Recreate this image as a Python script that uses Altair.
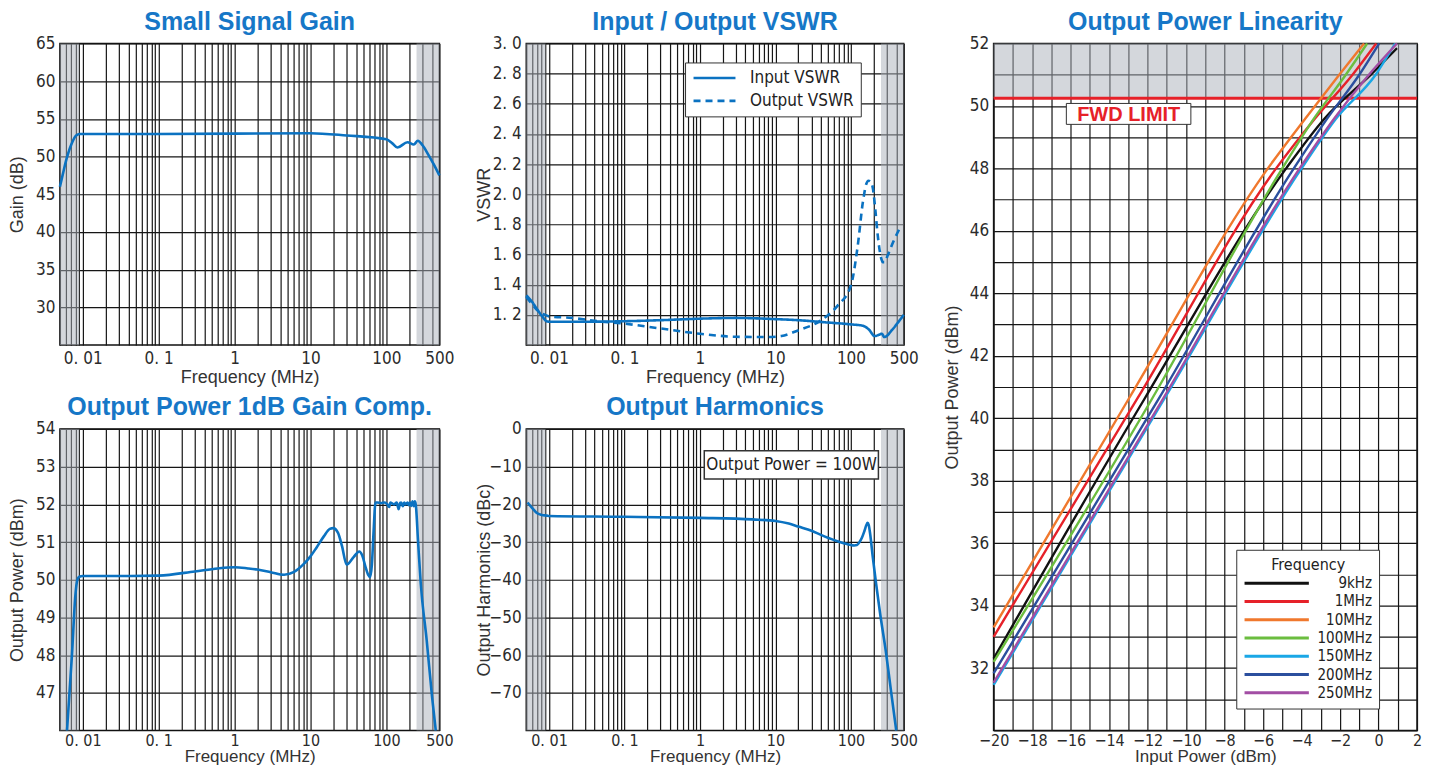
import altair as alt
import pandas as pd

# ------------------------------------------------------------------ data
FREQ_GAIN = [0.005, 0.0055, 0.006, 0.0065, 0.007,
             0.0075, 0.008, 0.0085, 0.009, 0.01,
             0.1, 1, 10, 30, 100,
             120, 140, 190, 230, 260,
             300, 360, 420, 500]
GAIN_DB = [46.0, 47.8, 49.4, 50.6, 51.5,
           52.2, 52.7, 52.9, 53.0, 53.0,
           53.0, 53.05, 53.1, 52.8, 52.3,
           51.75, 51.2, 51.9, 51.6, 52.1,
           51.5, 50.2, 49.0, 47.5]

VSWR_SERIES = ["Input VSWR", "Output VSWR"]
FREQ_VSWR_IN = [0.005, 0.006, 0.0069, 0.008, 0.0094,
                0.01, 0.03, 0.1, 0.3, 1,
                3, 10, 20, 40, 100,
                144, 175, 205, 235, 256,
                277, 350, 420, 500]
VSWR_IN = [1.33, 1.285, 1.24, 1.195, 1.157,
           1.155, 1.155, 1.158, 1.165, 1.175,
           1.18, 1.172, 1.165, 1.153, 1.137,
           1.128, 1.10, 1.06, 1.068, 1.075,
           1.053, 1.10, 1.15, 1.20]
FREQ_VSWR_OUT = [0.005, 0.006, 0.007, 0.008, 0.0094,
                 0.01, 0.02, 0.05, 0.1, 0.3,
                 1, 3, 8, 12, 20,
                 40, 67, 100, 123, 144,
                 160, 170, 185, 195, 210,
                 226, 250, 264, 280, 307,
                 360, 438]
VSWR_OUT = [1.32, 1.27, 1.23, 1.21, 1.195,
            1.19, 1.18, 1.155, 1.142, 1.11,
            1.075, 1.055, 1.053, 1.06, 1.097,
            1.164, 1.263, 1.396, 1.66, 1.95,
            2.07, 2.09, 2.08, 2.04, 1.9,
            1.73, 1.58, 1.55, 1.55, 1.595,
            1.68, 1.77]

FREQ_P1DB = [0.0062, 0.0072, 0.008, 0.0085, 0.009,
             0.01, 0.03, 0.1, 0.3, 0.6,
             1, 1.5, 2, 3, 4.5,
             6, 8, 10, 12, 15,
             18, 20, 23, 26, 30,
             37, 44, 48, 53, 58,
             61, 64.5, 68, 72, 76,
             85, 95, 103, 109, 113,
             120, 127, 137, 145, 152,
             157, 165, 172, 180, 190,
             198, 206, 214, 221, 230,
             237, 244, 262, 284, 340,
             400, 448]
P1DB = [46.0, 48.0, 49.6, 50.0, 50.08,
        50.1, 50.1, 50.11, 50.22, 50.3,
        50.33, 50.3, 50.27, 50.2, 50.13,
        50.2, 50.4, 50.62, 50.85, 51.15,
        51.35, 51.37, 51.25, 50.9, 50.4,
        50.6, 50.75, 50.65, 50.35, 50.12,
        50.07, 50.4, 51.3, 52.05, 52.05,
        52.03, 52.05, 52.0, 51.93, 52.05,
        52.02, 52.0, 52.05, 51.87, 52.04,
        52.05, 51.95, 52.05, 52.0, 52.05,
        51.98, 52.05, 51.96, 52.08, 51.95,
        52.08, 52.0, 51.0, 49.9, 48.4,
        46.9, 46.0]

FREQ_HARM = [0.0052, 0.006, 0.0069, 0.008, 0.0094,
             0.01, 0.1, 1, 5, 10,
             15, 20, 30, 40, 60,
             80, 100, 110, 120, 130,
             140, 150, 160, 166, 172,
             180, 194, 215, 243, 292,
             340, 398]
HARM_DBC = [-19.5, -21.0, -22.3, -22.8, -23.0,
            -23.1, -23.3, -23.6, -24.0, -24.4,
            -25.1, -25.9, -27.0, -28.1, -29.5,
            -30.3, -30.8, -30.9, -30.8, -30.0,
            -28.8, -27.2, -25.5, -24.9, -25.5,
            -28.0, -33.8, -41.0, -48.9, -59.5,
            -69.7, -80.0]

# shaded (out of spec) frequency bands, MHz
SHADE_F1 = [0.005, 250]
SHADE_F2 = [0.009, 500]

# linearity
LIN_SERIES = ["9kHz", "1MHz", "10MHz", "100MHz", "150MHz", "200MHz", "250MHz"]
LIN_COLORS = ["#111111", "#e62129", "#f0782d", "#6bbd3f", "#1aa7e6", "#2b4f9e", "#a24ea4"]
PIN_9K = [-20, -12.18, -4.8, -2.8, -0.4, 0.96]
POUT_9K = [32.3, 40.6, 48.0, 49.6, 51.0, 51.85]
PIN_1M = [-20, -12.56, -5.32, -3.3, -1.35, -0.12]
POUT_1M = [33.0, 40.6, 48.0, 49.6, 51.0, 52.0]
PIN_10M = [-20, -13.0, -5.75, -3.8, -2.04, -0.75]
POUT_10M = [33.3, 40.6, 48.0, 49.6, 51.0, 52.0]
PIN_100M = [-20, -11.79, -5.0, -3.35, -1.7, -0.59]
POUT_100M = [32.2, 40.6, 48.0, 49.6, 51.0, 52.0]
PIN_150M = [-20, -11.15, -4.0, -2.2, -0.15, 0.86]
POUT_150M = [31.46, 40.6, 48.0, 49.6, 51.0, 52.0]
PIN_200M = [-20, -11.44, -4.4, -2.66, -1.0, 0.03]
POUT_200M = [31.83, 40.6, 48.0, 49.6, 51.0, 52.0]
PIN_250M = [-20, -11.22, -4.1, -2.3, -0.5, 0.96]
POUT_250M = [31.53, 40.6, 48.0, 49.6, 51.0, 52.0]
FWD_LIMIT = 50.25

# tick values / labels
FREQ_GRID = ([m / 1000 for m in range(5, 10)] + [m / 100 for m in range(1, 10)]
             + [m / 10 for m in range(1, 10)] + [float(m) for m in range(1, 10)]
             + [float(m * 10) for m in range(1, 10)] + [100.0, 200.0, 300.0, 400.0, 500.0])
FREQ_LABEL_VALUES = [0.01, 0.1, 1, 10, 100, 500]
FREQ_LABEL_TEXT = ["0. 01", "0. 1", "1", "10", "100", "500"]
GAIN_TICKS = [30, 35, 40, 45, 50, 55, 60, 65]
VSWR_TICKS = [1.2, 1.4, 1.6, 1.8, 2.0, 2.2, 2.4, 2.6, 2.8, 3.0]
P1DB_TICKS = [47, 48, 49, 50, 51, 52, 53, 54]
HARM_TICKS = [-70, -60, -50, -40, -30, -20, -10, 0]
LIN_X_TICKS = list(range(-20, 3))
LIN_Y_TICKS = list(range(30, 53))

# annotations (data coordinates)
HARM_NOTE = "Output Power = 100W"
HARM_NOTE_BOX = {"f": [1.14], "f2": [231.0], "v": [-13.3], "v2": [-5.8]}
HARM_NOTE_POS = {"f": [16.3], "v": [-9.6]}
FWD_NOTE = "FWD LIMIT"
FWD_NOTE_BOX = {"pin": [-16.22], "pin2": [-9.75], "pout": [49.41], "pout2": [50.08]}
FWD_NOTE_POS = {"pin": [-12.98], "pout": [49.72]}

# ------------------------------------------------------------------ style
BLUE = "#0b72c1"
TITLE_BLUE = "#1677c7"
SHADE = "#a9afb9"
GRID = "#161616"
TXT = "#333333"
RED = "#e62129"
NARROW = "Liberation Sans Narrow, Arial Narrow, DejaVu Sans Condensed, sans-serif"
SANS = "Liberation Sans, Arial, Helvetica, sans-serif"

label_expr = " : ".join(
    f"datum.value == {v} ? '{t}'" for v, t in zip(FREQ_LABEL_VALUES, FREQ_LABEL_TEXT)
) + " : ''"

FREQ_SCALE = alt.Scale(type="log", domain=[0.005, 500], nice=False)
FREQ_AXIS_TOP = alt.Axis(values=FREQ_GRID, labelExpr=label_expr, labelOverlap=False,
                         labelFlush=False, title="Frequency (MHz)", titleY=37,
                         titleBaseline="alphabetic")
FREQ_AXIS_BOT = alt.Axis(values=FREQ_GRID, labelExpr=label_expr, labelOverlap=False,
                         labelFlush=False, title="Frequency (MHz)", titleY=31,
                         titleBaseline="alphabetic", labelPadding=2, labelFontSize=16,
                         titleFontSize=17)


def y_axis(values, title, expr=None):
    kw = dict(values=values, title=title, titleX=-37, titleBaseline="alphabetic",
              labelOverlap=False)
    if expr:
        kw["labelExpr"] = expr
    return alt.Axis(**kw)


def fx(field, axis):
    return alt.X(f"{field}:Q", scale=FREQ_SCALE, axis=axis)


def shade_layer(axis):
    df = pd.DataFrame({"f": SHADE_F1, "f2": SHADE_F2})
    return alt.Chart(df).mark_rect(fill=SHADE, opacity=0.5).encode(
        x=fx("f", axis), x2="f2:Q")


def single_line(freqs, vals):
    return pd.DataFrame({"f": freqs, "v": vals})


def title(text, off):
    return alt.TitleParams(text=text, offset=off, frame="group",
                           anchor="middle", font=SANS, fontSize=25, fontWeight="bold",
                           color=TITLE_BLUE)


# ---------- panel 1: gain
gain_y = alt.Y("v:Q", scale=alt.Scale(domain=[25, 65], nice=False),
               axis=y_axis(GAIN_TICKS, "Gain (dB)"))
p1 = alt.layer(
    shade_layer(FREQ_AXIS_TOP),
    alt.Chart(single_line(FREQ_GAIN, GAIN_DB)).mark_line(
        color=BLUE, strokeWidth=2.6, interpolate="monotone").encode(
        x=fx("f", FREQ_AXIS_TOP), y=gain_y),
).properties(width=380, height=302, title=title("Small Signal Gain", 0))

# ---------- panel 2: VSWR
vswr_df = pd.concat([
    pd.DataFrame({"f": FREQ_VSWR_IN, "v": VSWR_IN, "s": VSWR_SERIES[0]}),
    pd.DataFrame({"f": FREQ_VSWR_OUT, "v": VSWR_OUT, "s": VSWR_SERIES[1]}),
])
vswr_y = alt.Y("v:Q", scale=alt.Scale(domain=[1.0, 3.0], nice=False),
               axis=y_axis(VSWR_TICKS, "VSWR",
                           "replace(format(datum.value, '.1f'), '.', '. ')"))
p2 = alt.layer(
    shade_layer(FREQ_AXIS_TOP),
    alt.Chart(vswr_df).mark_line(color=BLUE, strokeWidth=2.6, interpolate="monotone").encode(
        x=fx("f", FREQ_AXIS_TOP), y=vswr_y,
        strokeDash=alt.StrokeDash(
            "s:N", scale=alt.Scale(domain=VSWR_SERIES, range=[[1, 0], [7, 5]]),
            legend=alt.Legend(title=None, orient="none", legendX=626, legendY=19,
                              fillColor="white", strokeColor="#333", padding=7,
                              symbolType="M-3,0H3", symbolSize=196, symbolOffset=14,
                              symbolStrokeColor=BLUE, symbolStrokeWidth=2.6,
                              labelFont=NARROW, labelFontSize=17, labelColor="#222",
                              labelOffset=27, rowPadding=5)),
    ),
).properties(width=378, height=302, title=title("Input / Output VSWR", 0))

# ---------- panel 3: P1dB
p1db_y = alt.Y("v:Q", scale=alt.Scale(domain=[46, 54], nice=False),
               axis=y_axis(P1DB_TICKS, "Output Power (dBm)"))
p3 = alt.layer(
    shade_layer(FREQ_AXIS_BOT),
    alt.Chart(single_line(FREQ_P1DB, P1DB)).mark_line(
        color=BLUE, strokeWidth=2.6, interpolate="monotone").encode(
        x=fx("f", FREQ_AXIS_BOT), y=p1db_y),
).properties(width=380, height=302, title=title("Output Power 1dB Gain Comp.", 0))

# ---------- panel 4: harmonics
harm_y = alt.Y("v:Q", scale=alt.Scale(domain=[-80, 0], nice=False),
               axis=y_axis(HARM_TICKS, "Output Harmonics (dBc)"))
note_box = pd.DataFrame(HARM_NOTE_BOX)
note_pos = pd.DataFrame(dict(HARM_NOTE_POS, t=[HARM_NOTE]))
p4 = alt.layer(
    shade_layer(FREQ_AXIS_BOT),
    alt.Chart(single_line(FREQ_HARM, HARM_DBC)).mark_line(
        color=BLUE, strokeWidth=2.6, interpolate="monotone").encode(
        x=fx("f", FREQ_AXIS_BOT), y=harm_y),
    alt.Chart(note_box).mark_rect(fill="white", stroke="#333", strokeWidth=1.5).encode(
        x=fx("f", FREQ_AXIS_BOT), x2="f2:Q", y=harm_y, y2="v2:Q"),
    alt.Chart(note_pos).mark_text(font=NARROW, fontSize=17, color="#222").encode(
        x=fx("f", FREQ_AXIS_BOT), y=harm_y, text="t:N"),
).properties(width=378, height=302, title=title("Output Harmonics", 0))

# ---------- panel 5: linearity
pins = [PIN_9K, PIN_1M, PIN_10M, PIN_100M, PIN_150M, PIN_200M, PIN_250M]
pouts = [POUT_9K, POUT_1M, POUT_10M, POUT_100M, POUT_150M, POUT_200M, POUT_250M]
lin_df = pd.concat([pd.DataFrame({"pin": a, "pout": b, "freq": s})
                    for a, b, s in zip(pins, pouts, LIN_SERIES)])

LIN_X = alt.X("pin:Q", scale=alt.Scale(domain=[-20, 2], nice=False),
              axis=alt.Axis(values=LIN_X_TICKS, title="Input Power (dBm)", titleY=31,
                            titleBaseline="alphabetic", labelFlush=False, labelOverlap=False,
                            labelPadding=2, labelFontSize=16, titleFontSize=17,
                            labelExpr="datum.value % 2 == 0 ? datum.label : ''"))
LIN_Y = alt.Y("pout:Q", scale=alt.Scale(domain=[30, 52], nice=False),
              axis=alt.Axis(values=LIN_Y_TICKS, title="Output Power (dBm)", titleX=-36,
                            titleBaseline="alphabetic", labelOverlap=False,
                            labelExpr="datum.value % 2 == 0 && datum.value > 30 ? datum.label : ''"))

shade_lin = pd.DataFrame({"pin": [-20], "pin2": [2], "pout": [FWD_LIMIT], "pout2": [52]})
p5 = alt.layer(
    alt.Chart(shade_lin).mark_rect(fill=SHADE, opacity=0.5).encode(
        x=LIN_X, x2="pin2:Q", y=LIN_Y, y2="pout2:Q"),
    alt.Chart(pd.DataFrame({"pout": [FWD_LIMIT]})).mark_rule(color=RED, strokeWidth=3).encode(
        y=LIN_Y),
    alt.Chart(lin_df).mark_line(strokeWidth=2.4, interpolate="monotone").encode(
        x=LIN_X, y=LIN_Y,
        color=alt.Color("freq:N", sort=LIN_SERIES,
                        scale=alt.Scale(domain=LIN_SERIES, range=LIN_COLORS),
                        legend=alt.Legend(title="Frequency", orient="none", legendX=1178,
                                          legendY=507, fillColor="white", strokeColor="#333",
                                          padding=7, titleFont=NARROW, titleFontSize=16,
                                          titleFontWeight="normal", titleColor="#222",
                                          titleAnchor="middle", titlePadding=2,
                                          labelFont=NARROW, labelFontSize=15,
                                          labelColor="#222", labelAlign="right",
                                          labelOffset=87, symbolType="M-4.6,0H4.6",
                                          symbolSize=196, symbolOffset=25,
                                          symbolStrokeWidth=3, rowPadding=1.3)),
    ),
    alt.Chart(pd.DataFrame(FWD_NOTE_BOX)).mark_rect(fill="white", stroke="#333",
                                                    strokeWidth=1).encode(
        x=LIN_X, x2="pin2:Q", y=LIN_Y, y2="pout2:Q"),
    alt.Chart(pd.DataFrame(dict(FWD_NOTE_POS, t=[FWD_NOTE]))).mark_text(
        font=SANS, fontSize=20, fontWeight="bold", color=RED).encode(
        x=LIN_X, y=LIN_Y, text="t:N"),
).properties(width=424, height=688, title=title("Output Power Linearity", 0))

col_a = alt.vconcat(p1, p3, spacing=84, bounds="flush")
col_b = alt.vconcat(p2, p4, spacing=84, bounds="flush")
left = alt.hconcat(col_a, col_b, spacing=19)

chart = alt.hconcat(left, p5, spacing=23).properties(
    padding={"left": 0, "top": 0, "right": 0, "bottom": 0}
).configure_axis(
    grid=True, gridColor=GRID, gridWidth=1.2, gridOpacity=1, domain=False, ticks=False,
    tickSize=0, labelFont=NARROW, labelFontSize=17, labelColor="#2b2b2b", labelPadding=5,
    titleFont=SANS, titleFontSize=18, titleFontWeight="normal", titleColor=TXT,
).configure_view(stroke="#111", strokeWidth=1.5)

chart.save("out.html", embed_options={"renderer": "svg", "actions": False})
